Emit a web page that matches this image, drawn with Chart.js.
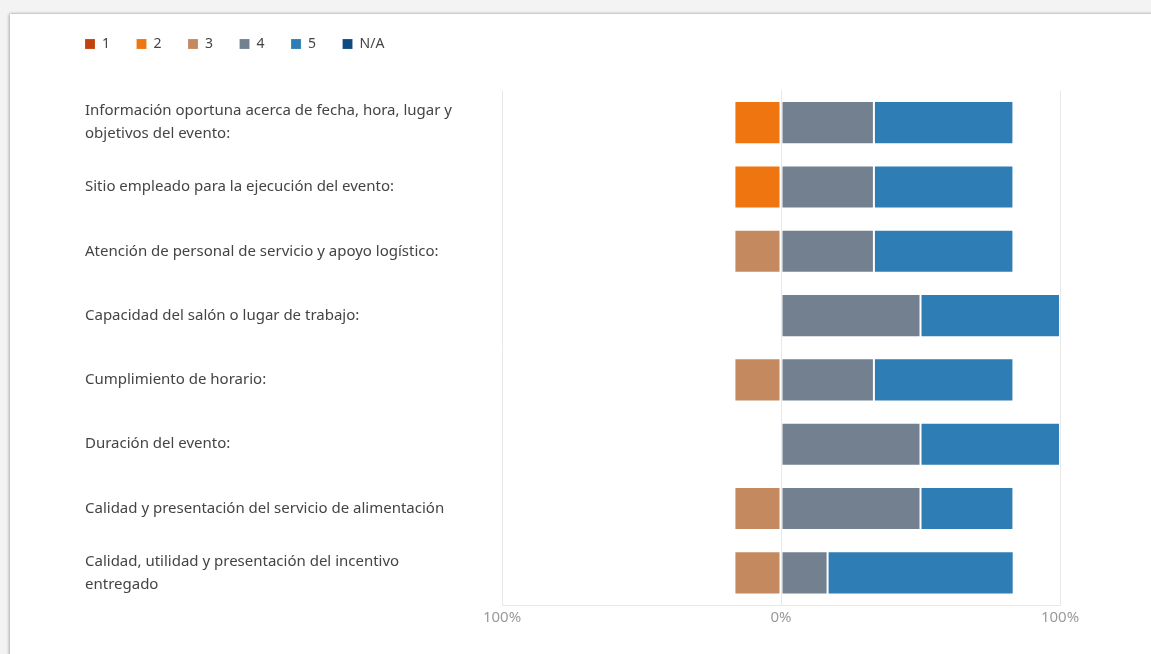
<!DOCTYPE html>
<html lang="es">
<head>
<meta charset="utf-8">
<title>Evaluación del evento</title>
<script src="https://cdn.jsdelivr.net/npm/chart.js@4.4.1/dist/chart.umd.min.js"></script>
<style>
  html, body { margin: 0; padding: 0; }
  body { width: 1151px; height: 654px; background: #f3f3f3; position: relative; overflow: hidden; }
  .tarjeta { position: absolute; left: 10px; top: 14px; width: 1160px; height: 660px; background: #fff; box-shadow: -1px 0 3px rgba(0,0,0,0.28), 0 -1px 2px rgba(0,0,0,0.08); }
  .grafico { position: absolute; left: 85px; top: 0; width: 1066px; height: 654px; }
</style>
</head>
<body>
<div class="tarjeta"></div>
<div class="grafico"><canvas id="graficoEvento"></canvas></div>
<script>
const preguntas = [
  ['Información oportuna acerca de fecha, hora, lugar y', 'objetivos del evento:'],
  'Sitio empleado para la ejecución del evento:',
  'Atención de personal de servicio y apoyo logístico:',
  'Capacidad del salón o lugar de trabajo:',
  'Cumplimiento de horario:',
  'Duración del evento:',
  'Calidad y presentación del servicio de alimentación',
  ['Calidad, utilidad y presentación del incentivo', 'entregado']
];

// porcentajes por nota (las notas bajas van al lado negativo)
const nota1 = [0, 0, 0, 0, 0, 0, 0, 0];
const nota2 = [-16.7, -16.7, 0, 0, 0, 0, 0, 0];
const nota3 = [0, 0, -16.7, 0, -16.7, 0, -16.7, -16.7];
const nota4 = [33.3, 33.3, 33.3, 50, 33.3, 50, 50, 16.7];
const nota5 = [50, 50, 50, 50, 50, 50, 33.3, 66.7];
const notaNA = [0, 0, 0, 0, 0, 0, 0, 0];

const etiquetasNota = ['1', '2', '3', '4', '5', 'N/A'];
const coloresNota = ['#c1420f', '#ee750f', '#c4895e', '#72808f', '#2e7db4', '#0f4b80'];
const ticksEje = [-100, 0, 100];

const series = [nota1, nota2, nota3, nota4, nota5, notaNA];

// mueve la leyenda para alinearla con las etiquetas del eje
const moverLeyenda = {
  id: 'moverLeyenda',
  afterLayout(chart) {
    chart.legend.left -= 26.5;
    chart.legend.top -= 29.5;
  }
};

const ctx = document.getElementById('graficoEvento').getContext('2d');
new Chart(ctx, {
  type: 'bar',
  data: {
    labels: preguntas,
    datasets: series.map((valores, i) => ({
      label: etiquetasNota[i],
      data: valores,
      backgroundColor: coloresNota[i],
      borderColor: 'rgba(255,255,255,0.15)',
      borderWidth: 1,
      borderSkipped: false,
      barPercentage: 0.67,
      categoryPercentage: 1
    }))
  },
  options: {
    indexAxis: 'y',
    responsive: true,
    maintainAspectRatio: false,
    animation: false,
    layout: { padding: { top: 40, right: 91, bottom: 23, left: 0 } },
    font: { family: "'Noto Sans', sans-serif" },
    plugins: {
      legend: {
        position: 'top',
        align: 'start',
        labels: {
          boxWidth: 10,
          boxHeight: 10,
          padding: 26.5,
          color: '#444',
          font: { family: "'Noto Sans', sans-serif", size: 14 }
        }
      },
      tooltip: { enabled: false }
    },
    scales: {
      x: {
        stacked: true,
        min: -100,
        max: 100,
        afterBuildTicks: (eje) => { eje.ticks = ticksEje.map(v => ({ value: v })); },
        grid: { color: '#e8e8e8', drawTicks: false },
        border: { color: '#e8e8e8' },
        ticks: {
          padding: 4,
          color: '#9a9a9a',
          font: { family: "'Noto Sans', sans-serif", size: 15 },
          callback: (v) => Math.abs(v) + '%'
        }
      },
      y: {
        stacked: true,
        afterFit: (eje) => { eje.width = 417; },
        grid: { display: false, drawTicks: false },
        border: { display: false },
        ticks: {
          crossAlign: 'far',
          padding: 0,
          color: '#444',
          font: { family: "'Noto Sans', sans-serif", size: 15, lineHeight: 1.53 }
        }
      }
    }
  },
  plugins: [moverLeyenda]
});
</script>
</body>
</html>
